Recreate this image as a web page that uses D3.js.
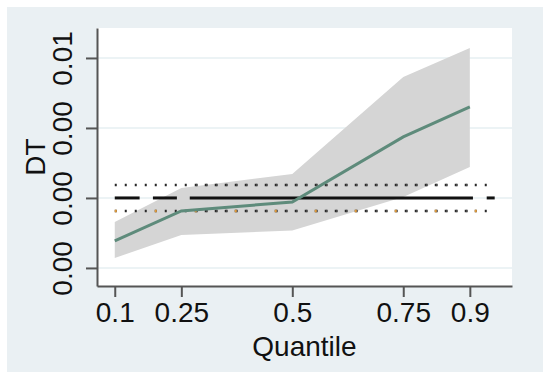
<!DOCTYPE html>
<html>
<head>
<meta charset="utf-8">
<script src="https://cdn.jsdelivr.net/npm/d3@7"></script>
<style>
  html, body { margin: 0; padding: 0; background: #ffffff; }
  svg text { font-family: "Liberation Sans", Arial, sans-serif; fill: #111; }
</style>
</head>
<body>
<div class="chart"></div>
<script>
/////////////////
// CHART DATA  //
/////////////////

// quantile regression estimates for DT
var quantiles = [0.1, 0.25, 0.5, 0.75, 0.9];
var estimate = [-0.00307, -0.00093, -0.00029, 0.00436, 0.0065];
var ciLower = [-0.00429, -0.00264, -0.00233, 0.00007, 0.00221];
var ciUpper = [-0.00171, 0.00071, 0.00171, 0.00864, 0.01071];

// OLS estimate and its confidence bounds (horizontal)
var olsEstimate = 0,
    olsLower = -0.00093,
    olsUpper = 0.00093;
var olsSegments = [[0.1, 0.156], [0.186, 0.24], [0.269, 0.907], [0.938, 0.956]];
var olsRange = [0.1, 0.956];
var olsDenseRange = [0.269, 0.907];

// axes
var xTicks = [0.1, 0.25, 0.5, 0.75, 0.9],
    xTickLabels = ['0.1', '0.25', '0.5', '0.75', '0.9'];
var yTicks = [-0.005, 0, 0.005, 0.01],
    yTickLabels = ['0.00', '0.00', '0.00', '0.01'];

//////////////////////
// INITIAL SETTINGS //
//////////////////////

var w = 550, h = 379;
var plot = { left: 97, right: 512, top: 28, bottom: 286 };

var svg = d3.select('.chart')
    .append('svg')
    .attr('width', w)
    .attr('height', h);

// outer (graph region) background
svg.append('rect')
    .attr('x', 7).attr('y', 7)
    .attr('width', 536).attr('height', 365)
    .attr('fill', '#eaf0f3');

svg.append('rect')
    .attr('x', plot.left).attr('y', plot.top)
    .attr('width', plot.right - plot.left).attr('height', plot.bottom - plot.top)
    .attr('fill', '#ffffff');

////////////
// SCALES //
////////////

var xScale = d3.scaleLinear()
    .domain([0.06, 0.995])
    .range([plot.left, plot.right]);

var yScale = d3.scaleLinear()
    .domain([-0.00629, 0.01214])
    .range([plot.bottom, plot.top]);

///////////////
// GRIDLINES //
///////////////

svg.append('g')
    .selectAll('line')
    .data(yTicks)
    .enter()
    .append('line')
    .attr('x1', plot.left)
    .attr('x2', plot.right)
    .attr('y1', function(d) { return yScale(d); })
    .attr('y2', function(d) { return yScale(d); })
    .attr('stroke', '#e6eff2')
    .attr('stroke-width', 1.5);

//////////////////
// CI BAND/LINE //
//////////////////

var rows = quantiles.map(function(q, i) {
    return { q: q, est: estimate[i], lo: ciLower[i], hi: ciUpper[i] };
});

var band = d3.area()
    .x(function(d) { return xScale(d.q); })
    .y0(function(d) { return yScale(d.lo); })
    .y1(function(d) { return yScale(d.hi); });

svg.append('path')
    .datum(rows)
    .attr('d', band)
    .attr('fill', '#d5d5d5');

// OLS bounds, dotted
var dotted = [olsUpper, olsLower];
var dots = svg.append('g');

dots.selectAll('.dot-main')
    .data(dotted)
    .enter()
    .append('line')
    .attr('class', 'dot-main')
    .attr('x1', xScale(olsRange[0]))
    .attr('x2', xScale(olsRange[1]))
    .attr('y1', function(d) { return yScale(d); })
    .attr('y2', function(d) { return yScale(d); })
    .attr('stroke', '#2a2a2a')
    .attr('stroke-width', 2.5)
    .attr('stroke-dasharray', '2,8');

// denser marks in the middle part
dots.selectAll('.dot-dense')
    .data(dotted)
    .enter()
    .append('line')
    .attr('class', 'dot-dense')
    .attr('x1', xScale(olsDenseRange[0]))
    .attr('x2', xScale(olsDenseRange[1]))
    .attr('y1', function(d) { return yScale(d); })
    .attr('y2', function(d) { return yScale(d); })
    .attr('stroke', '#444')
    .attr('stroke-width', 2.5)
    .attr('stroke-dasharray', '1.5,8.5')
    .attr('stroke-dashoffset', 3.5);

// a few orange specks on the lower bound
svg.append('line')
    .attr('x1', xScale(olsRange[0]))
    .attr('x2', xScale(olsRange[1]))
    .attr('y1', yScale(olsLower))
    .attr('y2', yScale(olsLower))
    .attr('stroke', '#e09a3a')
    .attr('stroke-width', 2.5)
    .attr('stroke-dasharray', '2,38');

// OLS estimate, long dashes
svg.append('g')
    .selectAll('line')
    .data(olsSegments)
    .enter()
    .append('line')
    .attr('x1', function(d) { return xScale(d[0]); })
    .attr('x2', function(d) { return xScale(d[1]); })
    .attr('y1', yScale(olsEstimate))
    .attr('y2', yScale(olsEstimate))
    .attr('stroke', '#111')
    .attr('stroke-width', 3);

var line = d3.line()
    .x(function(d) { return xScale(d.q); })
    .y(function(d) { return yScale(d.est); });

svg.append('path')
    .datum(rows)
    .attr('d', line)
    .attr('fill', 'none')
    .attr('stroke', '#5e8b7b')
    .attr('stroke-width', 3);

//////////
// AXIS //
//////////

var xAxis = d3.axisBottom(xScale)
    .tickValues(xTicks)
    .tickSize(11)
    .tickSizeOuter(0)
    .tickFormat(function(d, i) { return xTickLabels[i]; });

var gx = svg.append('g')
    .attr('transform', 'translate(0,' + plot.bottom + ')')
    .call(xAxis);

gx.select('.domain').attr('stroke', '#555').attr('stroke-width', 2);
gx.selectAll('.tick line').attr('stroke', '#555').attr('stroke-width', 2);
gx.selectAll('.tick text')
    .attr('font-size', 28)
    .attr('y', 16)
    .attr('dy', '0.71em')
    .style('fill', '#111');

var yAxis = d3.axisLeft(yScale)
    .tickValues(yTicks)
    .tickSize(11)
    .tickSizeOuter(0)
    .tickFormat(function(d, i) { return yTickLabels[i]; });

var gy = svg.append('g')
    .attr('transform', 'translate(' + plot.left + ',0)')
    .call(yAxis);

gy.select('.domain').attr('stroke', '#555').attr('stroke-width', 2);
gy.selectAll('.tick line').attr('stroke', '#555').attr('stroke-width', 2);
gy.selectAll('.tick text')
    .attr('font-size', 28)
    .attr('x', null)
    .attr('dy', null)
    .attr('text-anchor', 'middle')
    .attr('transform', 'translate(-25,0) rotate(-90)')
    .style('fill', '#111');

// axis titles
svg.append('text')
    .attr('x', (plot.left + plot.right) / 2)
    .attr('y', 356)
    .attr('text-anchor', 'middle')
    .attr('font-size', 28)
    .text('Quantile');

svg.append('text')
    .attr('transform', 'translate(45,' + (plot.top + plot.bottom) / 2 + ') rotate(-90)')
    .attr('text-anchor', 'middle')
    .attr('font-size', 28)
    .text('DT');
</script>
</body>
</html>
